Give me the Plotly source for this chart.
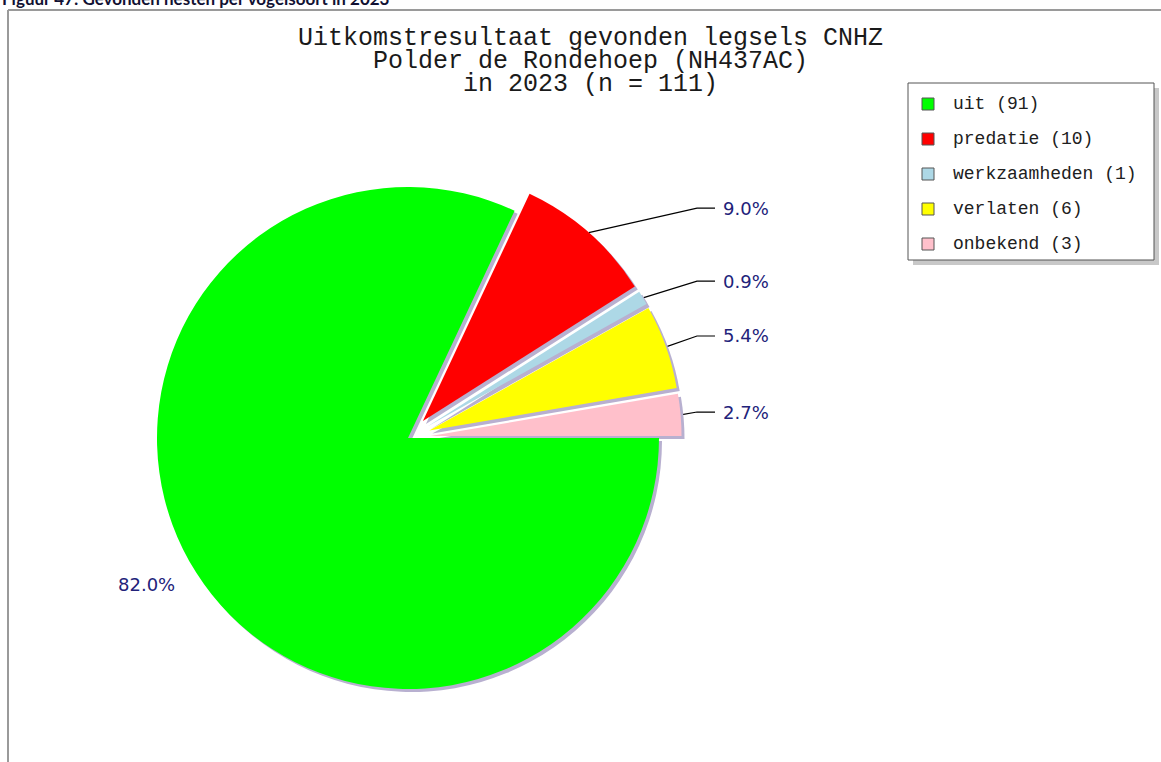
import math
import plotly.graph_objects as go

# data
labels = ["uit", "predatie", "werkzaamheden", "verlaten", "onbekend"]
counts = [91, 10, 1, 6, 3]
colors = ["#00ff00", "#ff0000", "#add8e6", "#ffff00", "#ffc0cb"]
pulls = [0, 0.09, 0.09, 0.09, 0.09]
title_lines = ["Uitkomstresultaat gevonden legsels CNHZ",
               "Polder de Rondehoep (NH437AC)",
               "in 2023 (n = 111)"]
caption = "Figuur 47: Gevonden nesten per vogelsoort in 2023"

W, H = 1161, 762
CX, CY, R = 408, 438, 251
total = sum(counts)

def px_domain(cx, cy, half):
    return dict(x=[(cx - half) / W, (cx + half) / W],
                y=[1 - (cy + half) / H, 1 - (cy - half) / H])

half = R * (1 + max(pulls))

fig = go.Figure()

# shadow pie behind the real one
fig.add_trace(go.Pie(values=counts, labels=labels, sort=False, direction="clockwise",
                     rotation=90, pull=pulls, textinfo="none", hoverinfo="skip",
                     marker=dict(colors=["#b8b0d0"] * len(counts), line=dict(width=0)),
                     domain=px_domain(CX + 3, CY + 3, half), showlegend=False))

fig.add_trace(go.Pie(values=counts, labels=labels, sort=False, direction="clockwise",
                     rotation=90, pull=pulls, textinfo="none",
                     marker=dict(colors=colors, line=dict(width=0)),
                     domain=px_domain(CX, CY, half), showlegend=False))

# percentage labels + guide lines
annotations = []
lx, ly_ = [], []
cum = 0
for v, p in zip(counts, pulls):
    mid = math.radians((cum + v / 2) / total * 360)
    cum += v
    c, s = math.cos(mid), math.sin(mid)
    txt = f"{v / total * 100:.1f}%"
    if p > 0:
        ex, ey = CX + (1 + p) * R * c, CY + (1 + p) * R * s
        ly = CY + 1.22 * R * s
        lx += [ex, 697, 715, None]
        ly_ += [ey, ly, ly, None]
        annotations.append(dict(x=721, y=ly, xref="x", yref="y", text=txt, showarrow=False,
                                xanchor="left", yanchor="middle",
                                font=dict(family="DejaVu Sans", size=18, color="#22227a")))
    else:
        annotations.append(dict(x=CX + 1.09 * R * c, y=CY + 1.09 * R * s, xref="x", yref="y",
                                text=txt, showarrow=False,
                                xanchor="right" if c < 0 else "left", yanchor="middle",
                                font=dict(family="DejaVu Sans", size=18, color="#22227a")))

fig.add_trace(go.Scatter(x=lx, y=ly_, mode="lines", line=dict(color="black", width=1.2),
                         hoverinfo="skip", showlegend=False))

# legend drawn by hand
leg_y = [104 + 35 * i for i in range(len(labels))]
fig.add_trace(go.Scatter(x=[928] * len(labels), y=leg_y, mode="markers", hoverinfo="skip",
                         marker=dict(symbol="square", size=12, color=colors,
                                     line=dict(color="#555555", width=1)),
                         showlegend=False))
for lab, v, y in zip(labels, counts, leg_y):
    annotations.append(dict(x=951, y=y, xref="x", yref="y", text=f"{lab} ({v})",
                            showarrow=False, xanchor="left", yanchor="middle",
                            font=dict(family="Liberation Mono", size=18, color="#202020")))

# title
for i, t in enumerate(title_lines):
    annotations.append(dict(x=590, y=38 + 23 * i, xref="x", yref="y", text=t,
                            showarrow=False, xanchor="center", yanchor="middle",
                            font=dict(family="Liberation Mono", size=25, color="#1a1a1a")))

annotations.append(dict(x=0, y=1 - 11 / H, xref="paper", yref="paper", text=f"<b>{caption}</b>",
                        showarrow=False, xanchor="left", yanchor="bottom",
                        font=dict(family="Lato", size=17, color="#111133")))

shapes = [
    dict(type="rect", x0=913, y0=88, x1=1159, y1=265, xref="x", yref="y",
         fillcolor="#c8c8c8", line=dict(width=0), layer="below"),
    dict(type="rect", x0=908, y0=83, x1=1154, y1=260, xref="x", yref="y",
         fillcolor="white", line=dict(color="#555555", width=1), layer="below"),
    dict(type="line", x0=8, y0=10, x1=8, y1=H, xref="x", yref="y",
         line=dict(color="#9a9a9a", width=2)),
    dict(type="line", x0=8, y0=10, x1=W, y1=10, xref="x", yref="y",
         line=dict(color="#9a9a9a", width=2)),
]

fig.update_layout(
    width=W, height=H, autosize=False,
    margin=dict(l=0, r=0, t=0, b=0),
    paper_bgcolor="white", plot_bgcolor="rgba(0,0,0,0)",
    xaxis=dict(range=[0, W], visible=False, fixedrange=True),
    yaxis=dict(range=[H, 0], visible=False, fixedrange=True),
    annotations=annotations, shapes=shapes,
)

# page body margin off so the figure sits at the window's top-left corner
fig.write_html("out.html", config={"displayModeBar": False},
               post_script="document.body.style.margin='0';")
